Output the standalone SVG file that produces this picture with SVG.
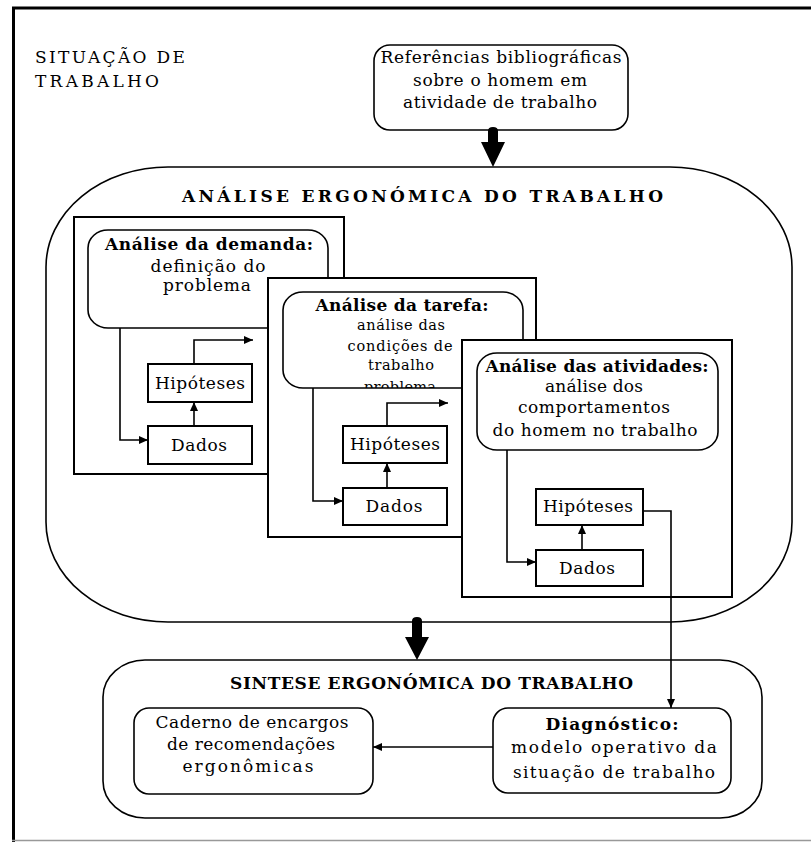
<svg xmlns="http://www.w3.org/2000/svg" width="811" height="842" viewBox="0 0 811 842">
<style>
text{font-family:"DejaVu Serif","Liberation Serif",serif;fill:#000;font-size:17px}
.c{text-anchor:middle}
.b{font-weight:bold}
.s{font-size:14.5px}
.box{fill:#fff;stroke:#000;stroke-width:2}
.rb{fill:#fff;stroke:#000;stroke-width:1.6}
.conn{fill:none;stroke:#000;stroke-width:1.6}
</style>
<defs>
<marker id="ah" markerUnits="userSpaceOnUse" markerWidth="10" markerHeight="10" refX="9" refY="4" orient="auto">
<path d="M0,0 L9,4 L0,8 z" fill="#000"/>
</marker>
<clipPath id="clip2"><rect x="283" y="292" width="240" height="96"/></clipPath>
</defs>
<rect width="811" height="842" fill="#fff"/>
<g id="frame">
<line x1="13.5" y1="8" x2="13.5" y2="842" stroke="#000" stroke-width="3"/>
<line x1="12" y1="8" x2="811" y2="8" stroke="#000" stroke-width="3"/>
<line x1="12" y1="840.5" x2="811" y2="840.5" stroke="#999" stroke-width="1.5"/>
</g>
<g id="situacao">
<text x="35" y="63" font-size="18" textLength="150">SITUAÇÃO DE</text>
<text x="35" y="87" font-size="18" textLength="124">TRABALHO</text>
</g>
<g id="referencias">
<rect class="rb" x="374" y="45" width="254" height="85" rx="16" ry="16"/>
<text class="c" x="501" y="63" textLength="241">Referências bibliográficas</text>
<text class="c" x="500" y="86" textLength="174">sobre o homem em</text>
<text class="c" x="500" y="108" textLength="194">atividade de trabalho</text>
</g>
<g id="analise">
<rect class="rb" x="46" y="167" width="746" height="455" rx="122" ry="100"/>
<text class="b" x="182" y="202" font-size="19.5" textLength="481">ANÁLISE ERGONÓMICA DO TRABALHO</text>
</g>
<g id="demanda">
<rect class="box" x="74" y="217" width="270" height="257"/>
<rect class="rb" x="88" y="230" width="240" height="98" rx="20" ry="18"/>
<text class="c b" x="209" y="250" font-size="15.5" textLength="208">Análise da demanda:</text>
<text class="c" x="208" y="272" textLength="115">definição do</text>
<text class="c" x="207" y="291" textLength="88">problema</text>
<rect class="box" x="148" y="364" width="104" height="38"/>
<text class="c" x="200" y="389" textLength="90">Hipóteses</text>
<rect class="box" x="148" y="426" width="104" height="38"/>
<text class="c" x="199" y="451" textLength="56">Dados</text>
</g>
<g id="tarefa">
<rect class="box" x="268" y="278" width="268" height="259"/>
<rect class="rb" x="283" y="292" width="240" height="96" rx="20" ry="18"/>
<g clip-path="url(#clip2)">
<text class="c b" x="402" y="311" font-size="15.5" textLength="173">Análise da tarefa:</text>
<text class="c s" x="401" y="330" textLength="88">análise das</text>
<text class="c s" x="400" y="351" textLength="105">condições de</text>
<text class="c s" x="401" y="370" textLength="66">trabalho</text>
<text class="c s" x="400" y="392" textLength="72">problema</text>
</g>
<rect class="box" x="343" y="426" width="104" height="37"/>
<text class="c" x="395" y="450" textLength="90">Hipóteses</text>
<rect class="box" x="343" y="488" width="104" height="37"/>
<text class="c" x="394" y="512" textLength="57">Dados</text>
</g>
<g id="atividades">
<rect class="box" x="462" y="340" width="270" height="257"/>
<rect class="rb" x="477" y="353" width="241" height="97" rx="20" ry="18"/>
<text class="c b" x="597" y="372" font-size="15.5" textLength="223">Análise das atividades:</text>
<text class="c" x="594" y="392" font-size="16.5" textLength="98">análise dos</text>
<text class="c" x="594" y="413" font-size="16.5" textLength="152">comportamentos</text>
<text class="c" x="595" y="436" font-size="16.5" textLength="205">do homem no trabalho</text>
<rect class="box" x="536" y="489" width="107" height="36"/>
<text class="c" x="588" y="512" textLength="90">Hipóteses</text>
<rect class="box" x="536" y="550" width="107" height="36"/>
<text class="c" x="587" y="574" textLength="56">Dados</text>
</g>
<g id="sintese">
<rect class="rb" x="103" y="660" width="659" height="158" rx="42" ry="37"/>
<text class="b" x="230" y="689" font-size="14.5" textLength="403">SINTESE ERGONÓMICA DO TRABALHO</text>
</g>
<g id="caderno">
<rect class="rb" x="134" y="708" width="239" height="86" rx="15" ry="15"/>
<text class="c" x="252" y="728" textLength="193">Caderno de encargos</text>
<text class="c" x="251" y="750" textLength="168">de recomendações</text>
<text class="c" x="248" y="772" textLength="131">ergonômicas</text>
</g>
<g id="diagnostico">
<rect class="rb" x="493" y="708" width="238" height="85" rx="15" ry="15"/>
<text class="c b" x="612" y="730" font-size="18" textLength="133">Diagnóstico:</text>
<text class="c" x="614" y="753" font-size="17.5" textLength="206">modelo operativo da</text>
<text class="c" x="614" y="778" font-size="17.5" textLength="202">situação de trabalho</text>
</g>
<g id="connectors">
<path d="M488,131 Q488,127 493,127 Q498,127 498,131 V142 H505 L493,167 L481,142 H488 Z" fill="#000"/>
<path d="M412,621 Q412,617 417,617 Q422,617 422,621 V637 H429 L417,660 L405,637 H412 Z" fill="#000"/>
<path class="conn" d="M120,328 V440 H148" marker-end="url(#ah)"/>
<path class="conn" d="M194,426 V402" marker-end="url(#ah)"/>
<path class="conn" d="M194,364 V340 H253" marker-end="url(#ah)"/>
<path class="conn" d="M313,388 V501 H343" marker-end="url(#ah)"/>
<path class="conn" d="M387,488 V463" marker-end="url(#ah)"/>
<path class="conn" d="M387,426 V403 H448" marker-end="url(#ah)"/>
<path class="conn" d="M507,450 V562 H536" marker-end="url(#ah)"/>
<path class="conn" d="M582,550 V525" marker-end="url(#ah)"/>
<path class="conn" d="M643,511 H671 V708" marker-end="url(#ah)"/>
<path class="conn" d="M493,747 H373" marker-end="url(#ah)"/>
</g>
</svg>
